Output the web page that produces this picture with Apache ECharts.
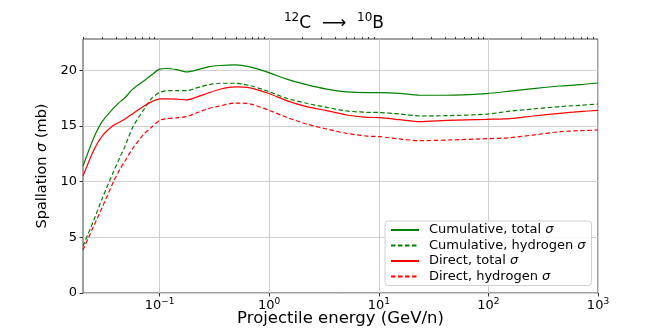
<!DOCTYPE html>
<html>
<head>
<meta charset="utf-8">
<script src="https://cdn.jsdelivr.net/npm/echarts@6/dist/echarts.min.js"></script>
<style>
  html, body { margin: 0; padding: 0; background: #fff; }
  #chart { width: 664px; height: 329px; }
</style>
</head>
<body>
<div id="chart"></div>
<script>
// 能量 (GeV/n)
const energy = [0.02, 0.025, 0.03, 0.038, 0.044, 0.048, 0.057, 0.071, 0.085, 0.1,
  0.116, 0.143, 0.176, 0.233, 0.277, 0.355, 0.486, 0.667, 0.98, 1.44,
  2.19, 3.34, 5.08, 7.74, 10.2, 15.5, 23.7, 41.6, 95.5, 157, 256, 449, 684, 1000]

// 截面 (mb)
const cumTotal = [11.4, 13.9, 15.4, 16.6, 17.2, 17.5, 18.3, 19.0, 19.6, 20.1,
  20.15, 20.05, 19.85, 20.1, 20.3, 20.42, 20.48, 20.3, 19.8, 19.2,
  18.7, 18.3, 18.05, 17.98, 17.98, 17.92, 17.75, 17.75, 17.9, 18.12, 18.35, 18.58, 18.7, 18.85]
const cumHydrogen = [4.2, 6.5, 8.5, 10.9, 12.3, 13.1, 14.9, 16.4, 17.5, 18.0,
  18.15, 18.17, 18.17, 18.5, 18.68, 18.83, 18.83, 18.62, 18.1, 17.48,
  17.03, 16.67, 16.34, 16.22, 16.2, 16.07, 15.89, 15.92, 16.05, 16.32, 16.52, 16.73, 16.85, 16.97]
const dirTotal = [10.5, 12.8, 14.1, 15.05, 15.4, 15.6, 16.1, 16.75, 17.18, 17.42,
  17.42, 17.4, 17.33, 17.69, 17.95, 18.29, 18.5, 18.42, 17.93, 17.27,
  16.73, 16.37, 15.98, 15.77, 15.74, 15.56, 15.38, 15.5, 15.59, 15.65, 15.89, 16.13, 16.28, 16.4]
const dirHydrogen = [3.85, 6.0, 7.7, 10.0, 11.2, 11.8, 13.0, 14.2, 14.9, 15.5,
  15.65, 15.72, 15.83, 16.28, 16.55, 16.79, 17.05, 16.98, 16.43, 15.77,
  15.17, 14.72, 14.33, 14.09, 14.03, 13.83, 13.67, 13.73, 13.85, 13.94, 14.18, 14.48, 14.57, 14.63]

// 刻度
const xTicks = [0.1, 1, 10, 100, 1000]
const yTicks = [0, 5, 10, 15, 20]

const FONT = 'DejaVu Sans'
const xMin = 0.02
const xMax = 1000

// 次刻度 2..9 x 10^k
const minorTicks = []
for (let k = -2; k <= 2; k++) {
  for (let m = 2; m <= 9; m++) {
    const v = +(m * Math.pow(10, k)).toPrecision(3)
    if (v >= xMin && v <= xMax) minorTicks.push(v)
  }
}

const pairs = arr => energy.map((e, i) => [e, arr[i]])

const chart = echarts.init(document.getElementById('chart'))

const option = {
  backgroundColor: '#fff',
  animation: false,
  textStyle: { fontFamily: FONT },
  title: {
    text: '{s|12}{b|C}  {b|⟶}  {s|10}{b|B}',
    left: 329,
    top: 7,
    textAlign: 'center',
    textStyle: {
      fontFamily: FONT,
      fontWeight: 'normal',
      fontSize: 17,
      color: '#000',
      lineHeight: 23,
      rich: {
        b: { fontFamily: FONT, fontSize: 17, color: '#000' },
        s: { fontFamily: FONT, fontSize: 12, color: '#000', verticalAlign: 'top' }
      }
    }
  },
  grid: {
    left: 83,
    right: 66,
    top: 39,
    bottom: 36,
    outerBoundsMode: 'none',
    containLabel: false,
    show: true,
    borderColor: '#444',
    borderWidth: 1
  },
  legend: {
    orient: 'vertical',
    left: 385,
    top: 221,
    padding: [2, 6, 2, 5],
    itemWidth: 28,
    itemHeight: 14,
    itemGap: 1.5,
    itemStyle: { opacity: 0 },
    backgroundColor: 'rgba(255,255,255,0.85)',
    borderColor: '#d0d0d0',
    borderWidth: 1,
    borderRadius: 3,
    formatter: name => name.replace('σ', '{i|σ}'),
    textStyle: {
      fontFamily: FONT,
      fontSize: 13,
      color: '#000',
      lineHeight: 14,
      padding: [0, 0, 0, 5],
      rich: {
        i: { fontFamily: FONT, fontSize: 13, fontStyle: 'italic', color: '#000' }
      }
    },
    data: ['Cumulative, total σ', 'Cumulative, hydrogen σ', 'Direct, total σ', 'Direct, hydrogen σ']
  },
  xAxis: [{
    type: 'log',
    logBase: 10,
    min: xMin,
    max: xMax,
    name: 'Projectile energy (GeV/n)',
    nameLocation: 'middle',
    nameGap: 17.5,
    nameMoveOverlap: false,
    nameTextStyle: { fontFamily: FONT, fontSize: 16.5, color: '#000' },
    axisLine: { show: false },
    axisTick: {
      show: true,
      length: 3.5,
      customValues: xTicks,
      lineStyle: { color: '#333' }
    },
    axisLabel: {
      customValues: xTicks,
      margin: 4,
      fontFamily: FONT,
      fontSize: 13,
      color: '#000',
      lineHeight: 18,
      formatter: v => {
        const k = Math.round(Math.log10(v))
        return '10{s|' + (k < 0 ? '−' + (-k) : k) + '}'
      },
      rich: {
        s: { fontFamily: FONT, fontSize: 9, color: '#000', verticalAlign: 'top' }
      }
    },
    splitLine: { show: true, lineStyle: { color: '#cfcfcf', width: 1 } }
  }, {
    type: 'log',
    logBase: 10,
    min: xMin,
    max: xMax,
    axisLine: { show: false },
    axisTick: {
      show: true,
      length: 2,
      customValues: minorTicks,
      lineStyle: { color: '#333' }
    },
    axisLabel: { show: false },
    splitLine: { show: false }
  }],
  yAxis: {
    type: 'value',
    min: 0,
    max: 22.8,
    interval: 5,
    name: 'Spallation {i|σ} (mb)',
    nameLocation: 'middle',
    nameGap: 31,
    nameTextStyle: {
      fontFamily: FONT,
      fontSize: 14.5,
      color: '#000',
      rich: {
        i: { fontFamily: FONT, fontSize: 14.5, fontStyle: 'italic', color: '#000' }
      }
    },
    axisLine: { show: false },
    axisTick: {
      show: true,
      length: 3.5,
      customValues: yTicks,
      lineStyle: { color: '#333' }
    },
    axisLabel: {
      customValues: yTicks,
      margin: 6,
      fontFamily: FONT,
      fontSize: 13,
      color: '#000'
    },
    splitLine: { show: true, lineStyle: { color: '#cfcfcf', width: 1 } }
  },
  series: [{
    name: 'Cumulative, total σ',
    type: 'line',
    symbol: 'none',
    smooth: 0.25,
    lineStyle: { color: '#008000', width: 1.2 },
    itemStyle: { color: '#008000' },
    data: pairs(cumTotal)
  }, {
    name: 'Cumulative, hydrogen σ',
    type: 'line',
    symbol: 'none',
    smooth: 0.25,
    lineStyle: { color: '#008000', width: 1.2, type: [4.5, 2.5] },
    itemStyle: { color: '#008000' },
    data: pairs(cumHydrogen)
  }, {
    name: 'Direct, total σ',
    type: 'line',
    symbol: 'none',
    smooth: 0.25,
    lineStyle: { color: '#ff0000', width: 1.2 },
    itemStyle: { color: '#ff0000' },
    data: pairs(dirTotal)
  }, {
    name: 'Direct, hydrogen σ',
    type: 'line',
    symbol: 'none',
    smooth: 0.25,
    lineStyle: { color: '#ff0000', width: 1.2, type: [4.5, 2.5] },
    itemStyle: { color: '#ff0000' },
    data: pairs(dirHydrogen)
  }]
}

chart.setOption(option)
window.onresize = function () {
  chart.resize()
}
</script>
</body>
</html>
